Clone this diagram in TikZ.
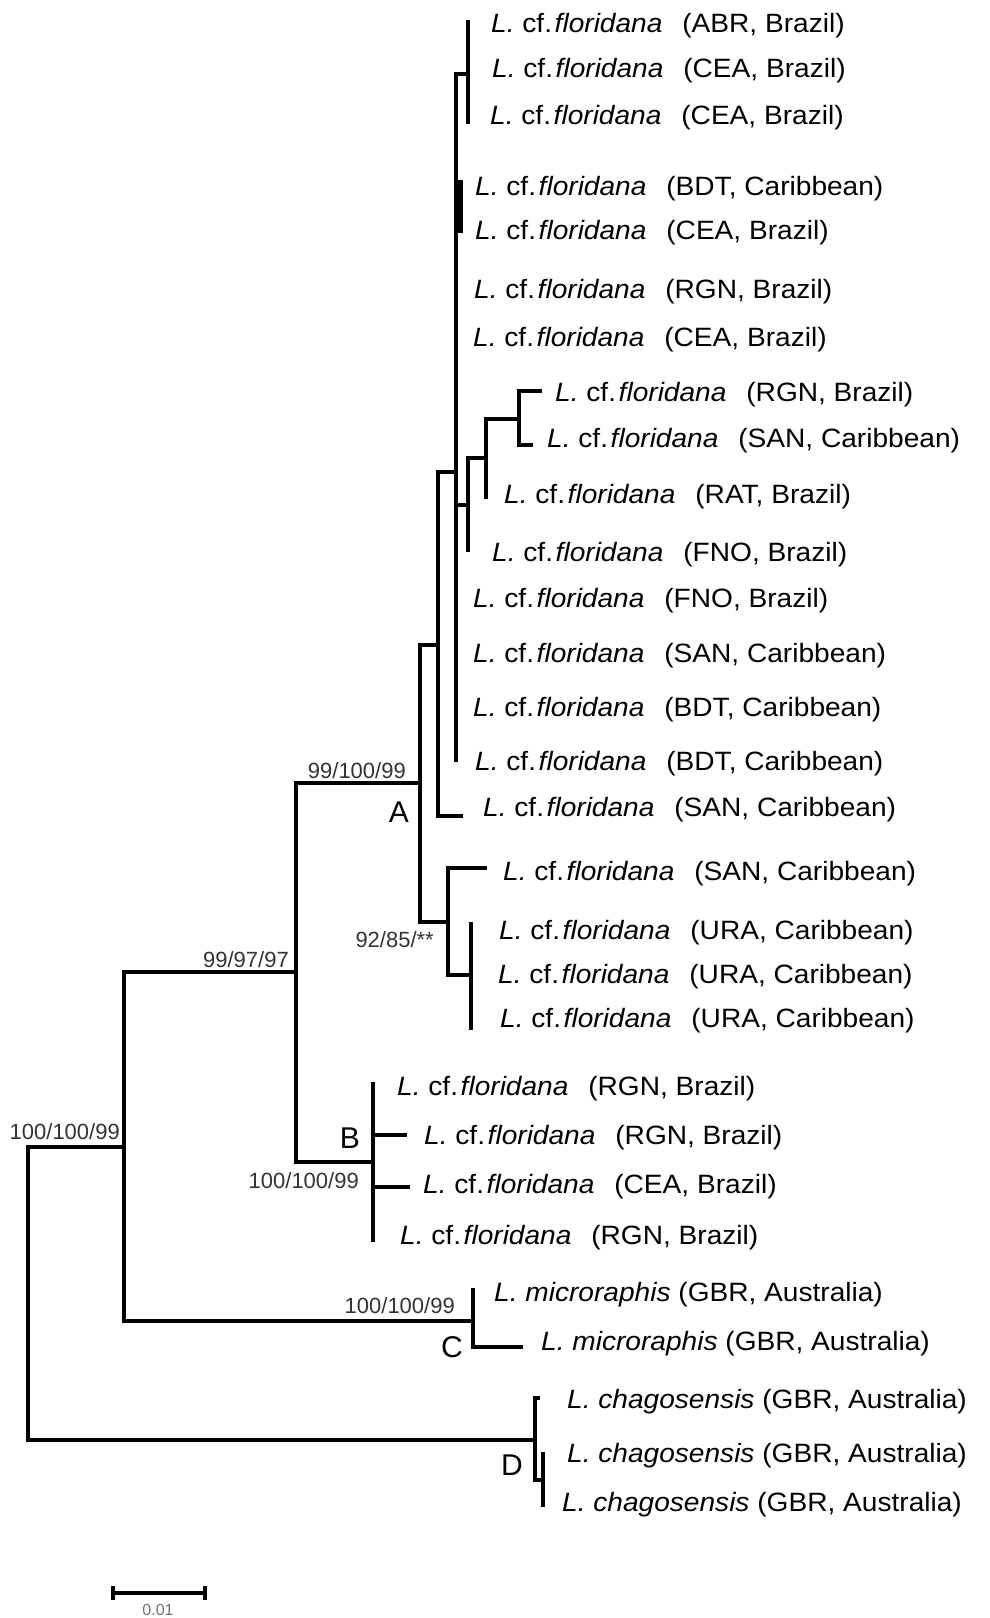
\documentclass[tikz,border=0pt]{standalone}
\usepackage{fontspec}
\setmainfont{Liberation Sans}
\newfontfamily\labfont{Liberation Sans}[FakeStretch=1.06]
\newcommand\Lcf[1]{\textit{L.} cf.\hspace{0.1em}\textit{floridana}\hspace{0.75em}(#1)}
\newcommand\Lsp[2]{\textit{L. #1} (#2)}
\begin{document}
\begin{tikzpicture}[x=1pt,y=-1pt,
  br/.style={draw, line width=3.1pt, line join=miter},
  leaf/.style={anchor=base west, inner sep=0pt, font=\labfont\fontsize{26.5}{26.5}\selectfont},
  sup/.style={anchor=base east, inner sep=0pt, font=\fontsize{22}{22}\selectfont, text=black!80},
  clade/.style={inner sep=0pt, font=\fontsize{30}{30}\selectfont}]
\useasboundingbox (0,0) rectangle (989,1618);
% internal nodes
\coordinate (root) at (28,1300);
\coordinate (n124) at (124,1147);
\coordinate (n296) at (296,972);
\coordinate (nA) at (420,783);
\coordinate (n438) at (438,645);
\coordinate (n456) at (456,472);
\coordinate (ntrio) at (468,74);
\coordinate (n468) at (468,505);
\coordinate (n486) at (486,458);
\coordinate (n519) at (519,419);
\coordinate (n448) at (448,922);
\coordinate (n471) at (471,975);
\coordinate (nB) at (373,1162);
\coordinate (nC) at (473,1321);
\coordinate (nD) at (535,1440);
\coordinate (nD2) at (543,1480);
% tips
\coordinate (t1) at (468,20);
\coordinate (t3) at (468,124);
\coordinate (t8) at (542,391);
\coordinate (t9) at (533,445);
\coordinate (t10) at (486,499);
\coordinate (t11) at (468,552);
\coordinate (t15) at (456,762);
\coordinate (t16) at (463,816);
\coordinate (t17) at (487,868);
\coordinate (t18) at (471,922);
\coordinate (t20) at (471,1030);
\coordinate (t21) at (373,1082);
\coordinate (t22) at (407,1135);
\coordinate (t23) at (410,1187);
\coordinate (t24) at (373,1242);
\coordinate (t25) at (473,1288);
\coordinate (t26) at (523,1347);
\coordinate (t27) at (540,1398);
\coordinate (t28) at (543,1452);
\coordinate (t29) at (543,1507);
% branches
\draw[br] (root) |- (n124);
\draw[br] (root) |- (nD);
\draw[br] (n124) |- (n296);
\draw[br] (n124) |- (nC);
\draw[br] (n296) |- (nA);
\draw[br] (n296) |- (nB);
\draw[br] (nA) |- (n438);
\draw[br] (nA) |- (n448);
\draw[br] (n438) |- (n456);
\draw[br] (n438) |- (t16);
\draw[br] (n456) |- (ntrio);
\draw[br] (n456) |- (n468);
\draw[br] (n456) |- (t15);
\draw[br] (ntrio) |- (t1);
\draw[br] (ntrio) |- (t3);
\draw[br] (n468) |- (n486);
\draw[br] (n468) |- (t11);
\draw[br] (n486) |- (n519);
\draw[br] (n486) |- (t10);
\draw[br] (n519) |- (t8);
\draw[br] (n519) |- (t9);
\draw[br] (n448) |- (t17);
\draw[br] (n448) |- (n471);
\draw[br] (n471) |- (t18);
\draw[br] (n471) |- (t20);
\draw[br] (nB) |- (t21);
\draw[br] (nB) |- (t22);
\draw[br] (nB) |- (t23);
\draw[br] (nB) |- (t24);
\draw[br] (nC) |- (t25);
\draw[br] (nC) |- (t26);
\draw[br] (nD) |- (t27);
\draw[br] (nD) |- (nD2);
\draw[br] (nD2) |- (t28);
\draw[br] (nD2) |- (t29);
% thick pair bar (BDT / CEA)
\coordinate (p1) at (455,180);
\coordinate (p2) at (463,233);
\fill (p1) rectangle (p2);
% leaf labels
\node[leaf] (l1) at (491,32) {\Lcf{ABR, Brazil}};
\node[leaf] (l2) at (492,77) {\Lcf{CEA, Brazil}};
\node[leaf] (l3) at (490,124) {\Lcf{CEA, Brazil}};
\node[leaf] (l4) at (475,195) {\Lcf{BDT, Caribbean}};
\node[leaf] (l5) at (475,239) {\Lcf{CEA, Brazil}};
\node[leaf] (l6) at (474,298) {\Lcf{RGN, Brazil}};
\node[leaf] (l7) at (473,346) {\Lcf{CEA, Brazil}};
\node[leaf] (l8) at (555,401) {\Lcf{RGN, Brazil}};
\node[leaf] (l9) at (547,447) {\Lcf{SAN, Caribbean}};
\node[leaf] (l10) at (504,503) {\Lcf{RAT, Brazil}};
\node[leaf] (l11) at (492,561) {\Lcf{FNO, Brazil}};
\node[leaf] (l12) at (473,607) {\Lcf{FNO, Brazil}};
\node[leaf] (l13) at (473,662) {\Lcf{SAN, Caribbean}};
\node[leaf] (l14) at (473,716) {\Lcf{BDT, Caribbean}};
\node[leaf] (l15) at (475,770) {\Lcf{BDT, Caribbean}};
\node[leaf] (l16) at (483,816) {\Lcf{SAN, Caribbean}};
\node[leaf] (l17) at (503,880) {\Lcf{SAN, Caribbean}};
\node[leaf] (l18) at (499,939) {\Lcf{URA, Caribbean}};
\node[leaf] (l19) at (498,983) {\Lcf{URA, Caribbean}};
\node[leaf] (l20) at (500,1027) {\Lcf{URA, Caribbean}};
\node[leaf] (l21) at (397,1095) {\Lcf{RGN, Brazil}};
\node[leaf] (l22) at (424,1144) {\Lcf{RGN, Brazil}};
\node[leaf] (l23) at (423,1193) {\Lcf{CEA, Brazil}};
\node[leaf] (l24) at (400,1244) {\Lcf{RGN, Brazil}};
\node[leaf] (l25) at (494,1301) {\Lsp{microraphis}{GBR, Australia}};
\node[leaf] (l26) at (541,1350) {\Lsp{microraphis}{GBR, Australia}};
\node[leaf] (l27) at (567,1408) {\Lsp{chagosensis}{GBR, Australia}};
\node[leaf] (l28) at (567,1462) {\Lsp{chagosensis}{GBR, Australia}};
\node[leaf] (l29) at (562,1511) {\Lsp{chagosensis}{GBR, Australia}};
% support values
\node[sup] (sRoot) at (120,1139) {100/100/99};
\node[sup] (s124) at (289,967) {99/97/97};
\node[sup] (sA) at (406,778) {99/100/99};
\node[sup] (s92) at (434,947) {92/85/**};
\node[sup] (sB) at (359,1188) {100/100/99};
\node[sup] (sC) at (455,1313) {100/100/99};
% clade letters
\node[clade] (cA) at (399,812) {A};
\node[clade] (cB) at (350,1138) {B};
\node[clade] (cC) at (452,1347) {C};
\node[clade] (cD) at (512,1465) {D};
% scale bar
\coordinate (sb1) at (113,1593);
\coordinate (sb2) at (205,1593);
\draw[br] (sb1) -- (sb2);
\draw[br] ([yshift=-7pt]sb1) -- ([yshift=7pt]sb1);
\draw[br] ([yshift=-7pt]sb2) -- ([yshift=7pt]sb2);
\node[inner sep=0pt, font=\fontsize{16}{16}\selectfont, text=black!55] (sbl) at (158,1610) {0.01};
\end{tikzpicture}
\end{document}
